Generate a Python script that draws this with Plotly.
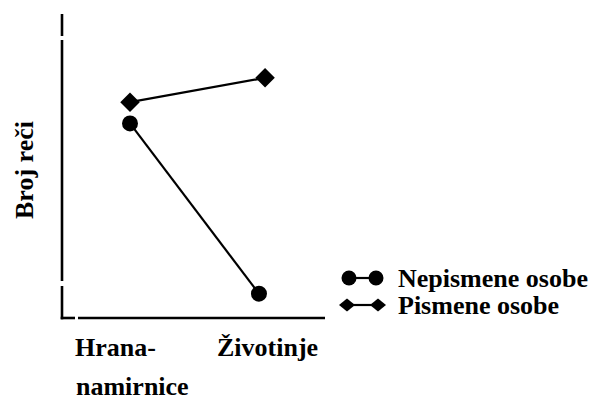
import plotly.graph_objects as go

# ---- data ----
categories = ["Hrana-namirnice", "Životinje"]
x_nepismene = [1.0, 1.977]
x_pismene = [1.0, 2.023]
y_nepismene = [64, 8]
y_pismene = [71, 79]
series_names = ["Nepismene osobe", "Pismene osobe"]
y_title = "Broj reči"
tick_lines = ["Hrana-", "namirnice", "Životinje"]

# ---- layout geometry (page pixels; page body has an 8px margin) ----
OFF = 8
W, H = 597 - OFF, 401 - OFF
L, R, T, B = 62, 325, 14, 318
PW, PH = R - L, B - T

def fx(px):
    return (px - L) / PW

def fy(py):
    return (B - py) / PH

FONT = "Liberation Serif, Times New Roman, serif"
fs = 26

fig = go.Figure()
fig.add_trace(go.Scatter(x=x_nepismene, y=y_nepismene, mode="lines+markers",
                         name=series_names[0], showlegend=False,
                         line=dict(color="black", width=2.2),
                         marker=dict(symbol="circle", size=16, color="black")))
fig.add_trace(go.Scatter(x=x_pismene, y=y_pismene, mode="lines+markers",
                         name=series_names[1], showlegend=False,
                         line=dict(color="black", width=2.2),
                         marker=dict(symbol="diamond", size=15, color="black")))

shapes = []
def seg(x0, y0, x1, y1, w=2.6):
    shapes.append(dict(type="line", xref="paper", yref="paper",
                       x0=fx(x0), y0=fy(y0), x1=fx(x1), y1=fy(y1),
                       line=dict(color="black", width=w)))

# y axis with breaks
seg(62, 14, 62, 36)
seg(62, 40, 62, 281)
seg(62, 286, 62, 319.3)
# x axis with break
seg(60.7, 318, 75, 318)
seg(78, 318, 325, 318)

# custom legend icons
seg(349, 278, 376, 278, 2.2)
for cx in (349, 376):
    shapes.append(dict(type="circle", xref="paper", yref="paper",
                       xsizemode="pixel", ysizemode="pixel",
                       xanchor=fx(cx), yanchor=fy(278),
                       x0=-7.5, x1=7.5, y0=-7.5, y1=7.5,
                       fillcolor="black", line=dict(color="black", width=0)))
seg(347, 305, 378, 305, 2.2)
for cx in (347, 378):
    shapes.append(dict(type="path", xref="paper", yref="paper",
                       xsizemode="pixel", ysizemode="pixel",
                       xanchor=fx(cx), yanchor=fy(305),
                       path="M -8 0 L 0 6.5 L 8 0 L 0 -6.5 Z",
                       fillcolor="black", line=dict(color="black", width=0)))

annotations = []
def txt(s, x, y, anchor="left", angle=0):
    annotations.append(dict(text="<b>" + s + "</b>", xref="paper", yref="paper",
                            x=fx(x), y=fy(y), xanchor=anchor, yanchor="middle",
                            textangle=angle, showarrow=False, borderpad=0,
                            font=dict(family=FONT, size=fs, color="black")))

txt(series_names[0], 397, 278)
txt(series_names[1], 397, 305)
txt(tick_lines[0], 74, 347)
txt(tick_lines[1], 75, 386)
txt(tick_lines[2], 216, 347)
txt(y_title, 25, 170, anchor="center", angle=-90)

fig.update_layout(
    width=W, height=H,
    margin=dict(l=L - OFF, r=W - (R - OFF), t=T - OFF, b=H - (B - OFF), pad=0),
    paper_bgcolor="white", plot_bgcolor="white",
    font=dict(family=FONT),
    xaxis=dict(range=[1 - (130 - L) / 132, 2 + (R - 262) / 132],
               showline=False, showgrid=False, zeroline=False,
               showticklabels=False, ticks=""),
    yaxis=dict(range=[0, 100], showline=False, showgrid=False, zeroline=False,
               showticklabels=False, ticks=""),
    shapes=shapes, annotations=annotations,
    showlegend=False,
)

fig.write_html("out.html")
